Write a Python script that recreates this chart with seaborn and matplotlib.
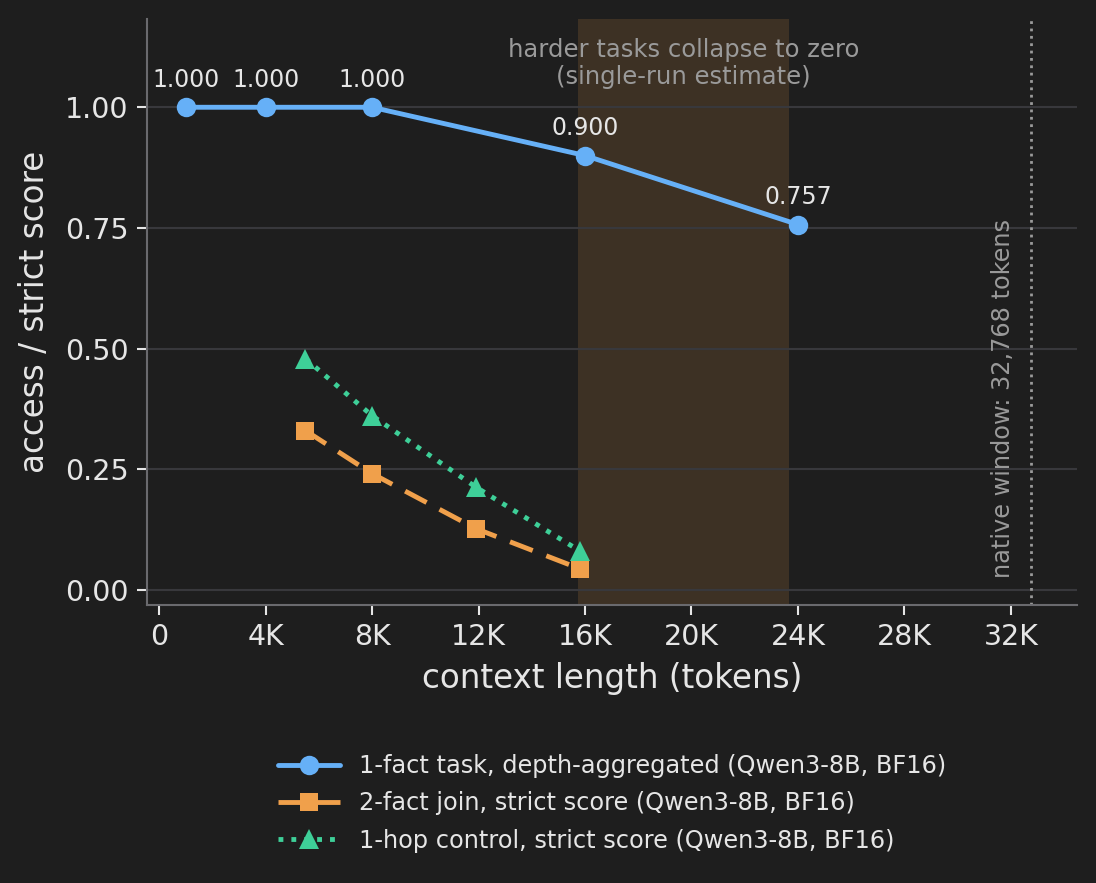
import pandas as pd
import seaborn as sns
from matplotlib import pyplot as plt
from matplotlib.ticker import FuncFormatter

# 1-fact task, depth-aggregated
one_fact_tokens = [1000, 4000, 8000, 16000, 24000]
one_fact_score = [1.000, 1.000, 1.000, 0.900, 0.757]

# 2-fact join and 1-hop control (same context lengths)
hard_tokens = [5500, 8000, 11900, 15800]
two_fact_score = [0.330, 0.241, 0.127, 0.044]
one_hop_score = [0.479, 0.361, 0.213, 0.081]

labels = [
    "1-fact task, depth-aggregated (Qwen3-8B, BF16)",
    "2-fact join, strict score (Qwen3-8B, BF16)",
    "1-hop control, strict score (Qwen3-8B, BF16)",
]
collapse_span = [15750, 23650]
native_window = 32768

bg = "#1e1e1e"
fg = "#e6e6e6"
muted = "#9a9a9a"
blue = "#66b0f7"
orange = "#f0a04b"
green = "#3ecf98"

sns.set_theme(style="dark")
plt.rcParams.update({
    "figure.facecolor": bg,
    "axes.facecolor": bg,
    "axes.edgecolor": "#6a6a6e",
    "axes.labelcolor": fg,
    "xtick.color": fg,
    "ytick.color": fg,
    "text.color": fg,
    "grid.color": "#38383c",
})
plt.rcParams["font.family"] = ["DejaVu Sans"]

df1 = pd.DataFrame({"tokens": one_fact_tokens, "score": one_fact_score})
df2 = pd.DataFrame({"tokens": hard_tokens, "score": two_fact_score})
df3 = pd.DataFrame({"tokens": hard_tokens, "score": one_hop_score})

fig = plt.figure(figsize=(10.96, 8.83), dpi=100)
ax = fig.add_axes([0.134, 0.315, 0.849, 0.663])

ax.axvspan(*collapse_span, color=orange, alpha=0.15, lw=0, zorder=0)

sns.lineplot(data=df1, x="tokens", y="score", ax=ax, color=blue, lw=3.5,
             marker="o", markersize=14, markeredgewidth=0, label=labels[0])
sns.lineplot(data=df2, x="tokens", y="score", ax=ax, color=orange, lw=3.5,
             marker="s", markersize=13.5, markeredgewidth=0, label=labels[1])
sns.lineplot(data=df3, x="tokens", y="score", ax=ax, color=green, lw=3.5,
             marker="^", markersize=15, markeredgewidth=0, label=labels[2])
ax.lines[1].set_dashes([5, 3])
ax.lines[2].set_linestyle(":")

for x, y in zip(one_fact_tokens, one_fact_score):
    ax.annotate(f"{y:.3f}", (x, y), xytext=(0, 11), textcoords="offset points",
                ha="center", va="bottom", fontsize=17, color=fg)

ax.axvline(native_window, color=muted, ls=":", lw=2)
ax.text(native_window - 620, 0.025, "native window: 32,768 tokens", rotation=90,
        ha="right", va="bottom", fontsize=17.3, color=muted)
ax.text(sum(collapse_span) / 2, 1.143,
        "harder tasks collapse to zero\n(single-run estimate)",
        ha="center", va="top", fontsize=17.5, color=muted, linespacing=1.15)

ax.set_xlim(-460, 34500)
ax.set_ylim(-0.031, 1.182)
ax.set_xticks(range(0, 32001, 4000))
ax.xaxis.set_major_formatter(FuncFormatter(lambda v, p: "0" if v == 0 else f"{int(v / 1000)}K"))
ax.set_yticks([0, 0.25, 0.5, 0.75, 1.0])
ax.yaxis.set_major_formatter(FuncFormatter(lambda v, p: f"{v:.2f}"))
ax.grid(axis="y", lw=1.5)
ax.tick_params(axis="both", labelsize=20.5, length=7, width=1.5, color=fg,
               bottom=True, left=True, pad=6)
ax.set_xlabel("context length (tokens)", fontsize=23.5, labelpad=8)
ax.set_ylabel("access / strict score", fontsize=23.5, labelpad=10)
sns.despine(ax=ax)
for s in ["left", "bottom"]:
    ax.spines[s].set_linewidth(1.5)

ax.legend(loc="upper center", bbox_to_anchor=(0.5, -0.218), frameon=False,
          fontsize=17.3, labelcolor=fg, handlelength=2.6, labelspacing=0.55)

fig.savefig("out.png", dpi=100, facecolor=bg)
